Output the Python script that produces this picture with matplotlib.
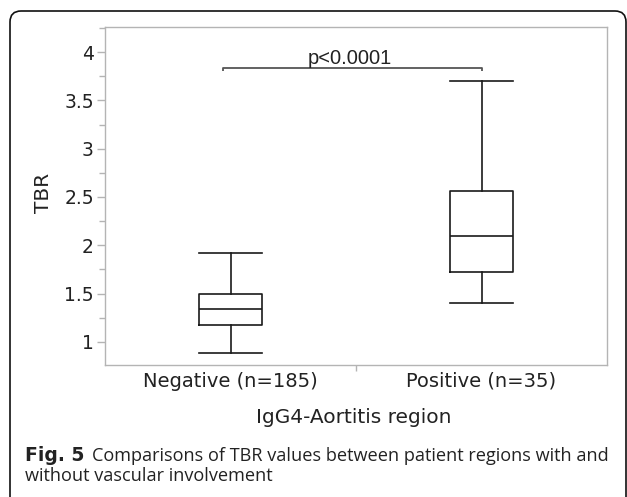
import matplotlib
matplotlib.use("Agg")
import matplotlib.pyplot as plt
from matplotlib.patches import FancyBboxPatch
from matplotlib.transforms import IdentityTransform
from matplotlib.ticker import MultipleLocator, FuncFormatter, FixedLocator

plt.rcParams["font.family"] = ["DejaVu Sans"]

# box summaries (TBR)
groups = ["Negative (n=185)", "Positive (n=35)"]
whisker_low = [0.88, 1.40]
q1 = [1.17, 1.72]
median = [1.34, 2.10]
q3 = [1.50, 2.56]
whisker_high = [1.92, 3.70]
p_text = "p<0.0001"

fig = plt.figure(figsize=(6.27, 4.97), dpi=100)

# rounded outer frame, open at the bottom edge of the image
frame = FancyBboxPatch((10, -30), 616, 516, boxstyle="round,pad=0,rounding_size=11",
                       transform=IdentityTransform(), fill=False, ec="#111111", lw=1.2)
fig.patches.append(frame)

ax = fig.add_axes([105 / 627, 1 - 365 / 497, 502 / 627, 338 / 497])

stats = []
for i in range(len(groups)):
    stats.append({"whislo": whisker_low[i], "q1": q1[i], "med": median[i],
                  "q3": q3[i], "whishi": whisker_high[i], "fliers": [], "label": groups[i]})

lp = dict(color="#1a1a1a", linewidth=1.2)
ax.bxp(stats, positions=[0, 1], widths=0.25, capwidths=0.25, showfliers=False,
       boxprops=lp, whiskerprops=lp, capprops=lp, medianprops=lp)

ax.set_xlim(-0.5, 1.5)
ax.set_ylim(0.76, 4.26)

# significance bracket
by = 3.835
ax.plot([-0.03, -0.03, 1.0, 1.0], [by - 0.03, by, by, by - 0.03], color="#555555", lw=1.3,
        solid_capstyle="butt")
ax.text(0.476, 3.876, p_text, ha="center", va="baseline", fontsize=14.5,
        family="Liberation Sans", color="#222222")

for s in ax.spines.values():
    s.set_color("#b4b4b4")
    s.set_linewidth(1.0)

ax.yaxis.set_major_locator(MultipleLocator(0.5))
ax.yaxis.set_minor_locator(MultipleLocator(0.25))
ax.yaxis.set_major_formatter(FuncFormatter(lambda v, p: "%g" % v))
ax.tick_params(axis="y", which="major", length=6, width=1.0, color="#b4b4b4",
               labelsize=13.5, labelcolor="#222222", pad=2)
ax.tick_params(axis="y", which="minor", length=4, width=1.0, color="#b4b4b4")

ax.set_xticks([0, 1])
ax.set_xticklabels(groups)
ax.xaxis.set_minor_locator(FixedLocator([0.5]))
ax.tick_params(axis="x", which="major", length=0, labelsize=14, labelcolor="#222222", pad=5)
ax.tick_params(axis="x", which="minor", length=4, width=1.0, color="#b4b4b4")

ax.set_ylabel("TBR", fontsize=14.5, color="#222222")
ax.yaxis.set_label_coords(-0.103, 0.509)
ax.set_xlabel("IgG4-Aortitis region", fontsize=14.5, color="#222222", va="baseline")
ax.xaxis.set_label_coords(0.496, -(423 - 365) / 338)

# caption
cap_fs = 13.1
fig.text(25 / 627, 1 - 461 / 497, "Fig. 5", fontsize=13.5, weight="bold",
         color="#222222", va="baseline")
fig.text(92 / 627, 1 - 461 / 497, "Comparisons of TBR values between patient regions with and",
         fontsize=cap_fs, family="Open Sans", color="#222222", va="baseline")
fig.text(25 / 627, 1 - 481 / 497, "without vascular involvement", fontsize=cap_fs,
         family="Open Sans", color="#222222", va="baseline")

fig.savefig("out.png", dpi=100)
